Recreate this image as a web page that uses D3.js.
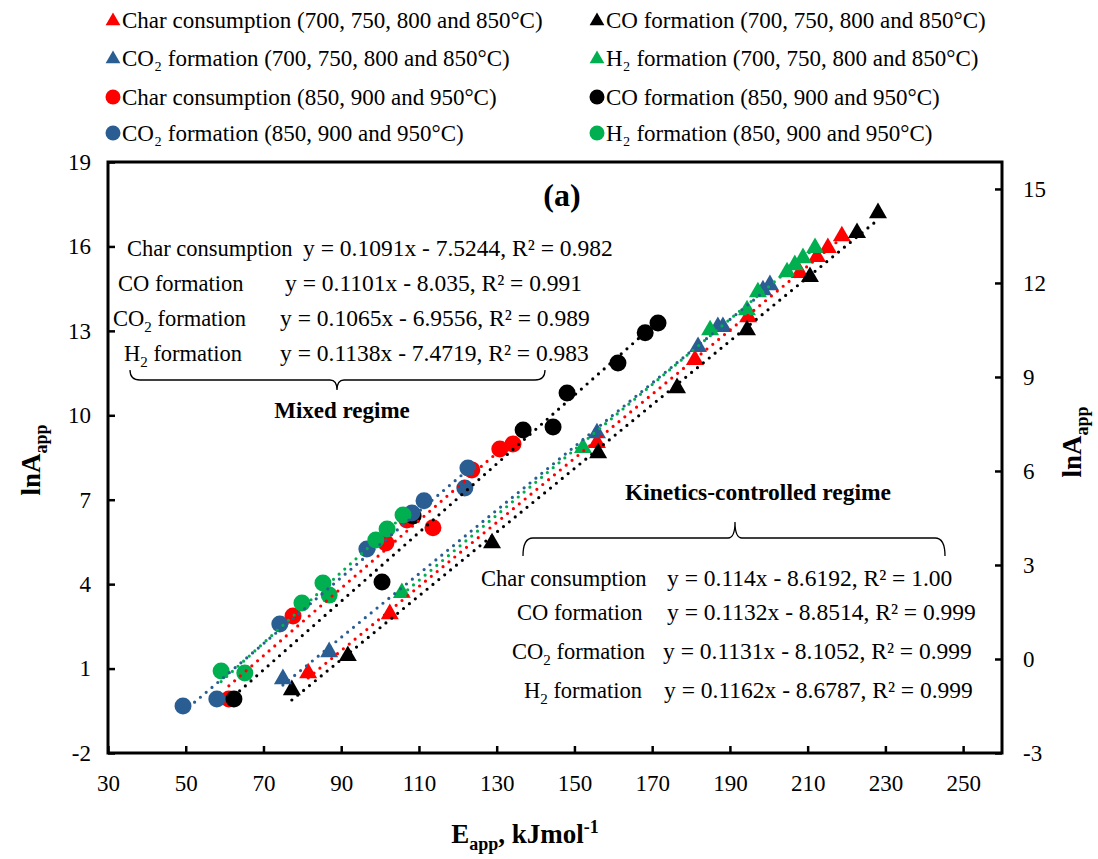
<!DOCTYPE html>
<html>
<head>
<meta charset="utf-8">
<script src="https://cdn.jsdelivr.net/npm/d3@7"></script>
<style>
  body { margin: 0; background: #fff; }
  text { font-family: "Liberation Serif", "Times New Roman", serif; fill: #000; }
</style>
</head>
<body>
<div id="chart"></div>
<script>
const svgWidth = 1098
const svgHeight = 859

let margin = { top: 162, right: 96, bottom: 106, left: 108 }
let width = svgWidth - margin.left - margin.right
let height = svgHeight - margin.top - margin.bottom

// Kinetics-controlled regime (700, 750, 800 and 850°C) - triangles
const charTriE = [81.5, 102.5, 155.8, 181.0, 194.7, 208.0, 212.4, 215.2, 218.8]
const charTriLnA = [0.84, 2.94, 9.02, 11.97, 13.49, 15.06, 15.63, 15.95, 16.37]
const coTriE = [77.3, 91.7, 128.8, 156.1, 176.4, 194.4, 210.6, 222.7, 228.1]
const coTriLnA = [0.24, 1.45, 5.46, 8.66, 10.97, 13.03, 14.92, 16.48, 17.19]
const co2TriE = [75.0, 86.9, 155.8, 181.8, 186.9, 188.2, 198.5, 200.3]
const co2TriLnA = [0.63, 1.59, 9.37, 12.43, 13.14, 13.14, 14.45, 14.63]
const h2TriE = [105.6, 152.2, 184.9, 194.4, 197.2, 204.7, 206.7, 208.8, 211.9]
const h2TriLnA = [3.69, 8.84, 13.03, 13.74, 14.38, 15.09, 15.34, 15.59, 15.95]

// Mixed regime (850, 900 and 950°C) - circles
const charCircE = [61.1, 77.6, 101.5, 106.9, 113.6, 123.6, 130.8, 134.2]
const charCircLnA = [-0.08, 2.87, 5.46, 6.28, 6.00, 8.06, 8.80, 8.98]
const coCircE = [62.4, 100.5, 108.5, 136.8, 144.5, 148.1, 161.2, 168.2, 171.5]
const coCircLnA = [-0.08, 4.08, 6.42, 9.48, 9.58, 10.79, 11.86, 12.93, 13.28]
const co2CircE = [49.3, 58.0, 74.2, 96.6, 108.2, 111.3, 121.8, 122.6]
const co2CircLnA = [-0.33, -0.08, 2.58, 5.25, 6.53, 6.96, 7.42, 8.13]
const h2CircE = [59.1, 65.2, 79.9, 85.3, 86.9, 98.9, 101.8, 105.9]
const h2CircLnA = [0.91, 0.84, 3.33, 4.04, 3.61, 5.57, 5.96, 6.46]

const xTicks = [30, 50, 70, 90, 110, 130, 150, 170, 190, 210, 230, 250]
const yTicks = [-2, 1, 4, 7, 10, 13, 16, 19]
const y2Ticks = [-3, 0, 3, 6, 9, 12, 15]

const red = "#ff0000"
const black = "#000000"
const blue = "#2a5d92"
const green = "#00b050"

let series = [
  { name: "Char consumption (700, 750, 800 and 850°C)", shape: "tri", color: red, xs: charTriE, ys: charTriLnA },
  { name: "CO formation (700, 750, 800 and 850°C)", shape: "tri", color: black, xs: coTriE, ys: coTriLnA },
  { name: "CO₂ formation (700, 750, 800 and 850°C)", shape: "tri", color: blue, xs: co2TriE, ys: co2TriLnA },
  { name: "H₂ formation (700, 750, 800 and 850°C)", shape: "tri", color: green, xs: h2TriE, ys: h2TriLnA },
  { name: "Char consumption (850, 900 and 950°C)", shape: "circ", color: red, xs: charCircE, ys: charCircLnA },
  { name: "CO formation (850, 900 and 950°C)", shape: "circ", color: black, xs: coCircE, ys: coCircLnA },
  { name: "CO₂ formation (850, 900 and 950°C)", shape: "circ", color: blue, xs: co2CircE, ys: co2CircLnA },
  { name: "H₂ formation (850, 900 and 950°C)", shape: "circ", color: green, xs: h2CircE, ys: h2CircLnA }
]

let svg = d3.select("#chart").append("svg")
  .attr("width", svgWidth)
  .attr("height", svgHeight)

let chartGroup = svg.append("g")
  .attr("transform", `translate(${margin.left}, ${margin.top})`)

let x = d3.scaleLinear().domain([30, 260]).range([0, width])
let y = d3.scaleLinear().domain([-2, 19]).range([height, 0])
let y2 = d3.scaleLinear().domain([-3, 15.86]).range([height, 0])

const triPath = d3.symbol().type(d3.symbolTriangle).size(140)
const plain = d => String(d)

// axes, ticks point inside
let bottomAxis = d3.axisBottom(x).tickValues(xTicks).tickFormat(plain).tickSizeInner(-7).tickSizeOuter(0).tickPadding(22)
let leftAxis = d3.axisLeft(y).tickValues(yTicks).tickFormat(plain).tickSizeInner(-7).tickSizeOuter(0).tickPadding(17)
let rightAxis = d3.axisRight(y2).tickValues(y2Ticks).tickFormat(plain).tickSizeInner(-7).tickSizeOuter(0).tickPadding(21)

function styleAxis(g) {
  g.selectAll("path").remove()
  g.selectAll("line").attr("stroke", "#000").attr("stroke-width", 2.5)
  g.selectAll("text").style("font-family", "Liberation Serif").style("font-size", "23px")
}

chartGroup.append("g").attr("transform", `translate(0, ${height})`).call(bottomAxis).call(styleAxis)
chartGroup.append("g").call(leftAxis).call(styleAxis)
chartGroup.append("g").attr("transform", `translate(${width}, 0)`).call(rightAxis).call(styleAxis)

chartGroup.append("rect")
  .attr("width", width)
  .attr("height", height)
  .attr("fill", "none")
  .attr("stroke", "#000")
  .attr("stroke-width", 3)

// markers
series.forEach(s => {
  let pts = s.xs.map((v, i) => [v, s.ys[i]])
  if (s.shape === "tri") {
    chartGroup.append("g").selectAll("path")
      .data(pts).enter().append("path")
      .attr("d", triPath)
      .attr("transform", d => `translate(${x(d[0])}, ${y(d[1])})`)
      .attr("fill", s.color)
  } else {
    chartGroup.append("g").selectAll("circle")
      .data(pts).enter().append("circle")
      .attr("cx", d => x(d[0]))
      .attr("cy", d => y(d[1]))
      .attr("r", 8.5)
      .attr("fill", s.color)
  }
})

// linear trendlines (least squares over each series)
series.forEach(s => {
  let mx = d3.mean(s.xs)
  let my = d3.mean(s.ys)
  let sxy = d3.sum(s.xs, (v, i) => (v - mx) * (s.ys[i] - my))
  let sxx = d3.sum(s.xs, v => (v - mx) * (v - mx))
  let b = sxy / sxx
  let a = my - b * mx
  let x0 = d3.min(s.xs)
  let x1 = d3.max(s.xs)
  chartGroup.append("line")
    .attr("x1", x(x0)).attr("y1", y(a + b * x0))
    .attr("x2", x(x1)).attr("y2", y(a + b * x1))
    .attr("stroke", s.color)
    .attr("stroke-width", 3.2)
    .attr("stroke-linecap", "round")
    .attr("stroke-dasharray", "0 7.6")
})

// legend
let legend = svg.append("g")
const legendRows = [20, 58, 97, 133]
series.forEach((s, i) => {
  let col = i % 2
  let row = Math.floor(i / 2)
  let lx = col === 0 ? 113 : 597
  let ly = legendRows[row]
  if (s.shape === "tri") {
    legend.append("path").attr("d", d3.symbol().type(d3.symbolTriangle).size(95))
      .attr("transform", `translate(${lx}, ${ly + 1})`).attr("fill", s.color)
  } else {
    legend.append("circle").attr("cx", lx).attr("cy", ly).attr("r", 7.5).attr("fill", s.color)
  }
  legend.append("text")
    .attr("x", lx + 9)
    .attr("y", ly + 8)
    .style("font-size", "23px")
    .text(s.name)
})

// panel label
svg.append("text")
  .attr("x", 562).attr("y", 206)
  .attr("text-anchor", "middle")
  .style("font-size", "32px").style("font-weight", "bold")
  .text("(a)")

function eqLine(lx, ex, by, label, sub, eq) {
  let t = svg.append("text").attr("x", lx).attr("y", by).style("font-size", "22.5px")
  t.append("tspan").text(label)
  if (sub) {
    t.append("tspan").attr("dy", 6).style("font-size", "15px").text(sub)
    t.append("tspan").attr("dy", -6).text(" formation")
  }
  svg.append("text").attr("x", ex).attr("y", by).style("font-size", "23.5px").text(eq)
}

// mixed regime equations
eqLine(127, 303, 256, "Char consumption", null, "y = 0.1091x - 7.5244, R² = 0.982")
eqLine(118, 285, 291, "CO formation", null, "y = 0.1101x - 8.035, R² = 0.991")
eqLine(113, 280, 326, "CO", "2", "y = 0.1065x - 6.9556, R² = 0.989")
eqLine(124, 280, 361, "H", "2", "y = 0.1138x - 7.4719, R² = 0.983")

// kinetics regime equations
eqLine(481, 667, 586, "Char consumption", null, "y = 0.114x - 8.6192, R² = 1.00")
eqLine(517, 667, 620, "CO formation", null, "y = 0.1132x - 8.8514, R² = 0.999")
eqLine(512, 663, 659, "CO", "2", "y = 0.1131x - 8.1052, R² = 0.999")
eqLine(524, 664, 698, "H", "2", "y = 0.1162x - 8.6787, R² = 0.999")

// braces
svg.append("path")
  .attr("d", "M130,370 Q130,380 140,380 L330,380 Q337,380 337,390 Q337,380 344,380 L535,380 Q545,380 545,370")
  .attr("fill", "none").attr("stroke", "#000").attr("stroke-width", 1.3)
svg.append("path")
  .attr("d", "M523,556 Q523,538 533,538 L728,538 Q735,538 735,522 Q735,538 742,538 L935,538 Q945,538 945,556")
  .attr("fill", "none").attr("stroke", "#000").attr("stroke-width", 1.3)

svg.append("text")
  .attr("x", 342).attr("y", 418)
  .attr("text-anchor", "middle")
  .style("font-size", "23px").style("font-weight", "bold")
  .text("Mixed regime")

svg.append("text")
  .attr("x", 758).attr("y", 500)
  .attr("text-anchor", "middle")
  .style("font-size", "23.5px").style("font-weight", "bold")
  .text("Kinetics-controlled regime")

// axis titles
function lnATitle(tx, ty) {
  let t = svg.append("text")
    .attr("transform", `translate(${tx}, ${ty}) rotate(-90)`)
    .attr("text-anchor", "middle")
    .style("font-size", "27px").style("font-weight", "bold")
  t.append("tspan").text("lnA")
  t.append("tspan").attr("dy", 7).style("font-size", "18px").text("app")
}
lnATitle(40, 460)
lnATitle(1081, 442)

let xt = svg.append("text")
  .attr("x", 525).attr("y", 843)
  .attr("text-anchor", "middle")
  .style("font-size", "27px").style("font-weight", "bold")
xt.append("tspan").text("E")
xt.append("tspan").attr("dy", 7).style("font-size", "18px").text("app")
xt.append("tspan").attr("dy", -7).text(", kJmol")
xt.append("tspan").attr("dy", -10).style("font-size", "18px").text("-1")
</script>
</body>
</html>
